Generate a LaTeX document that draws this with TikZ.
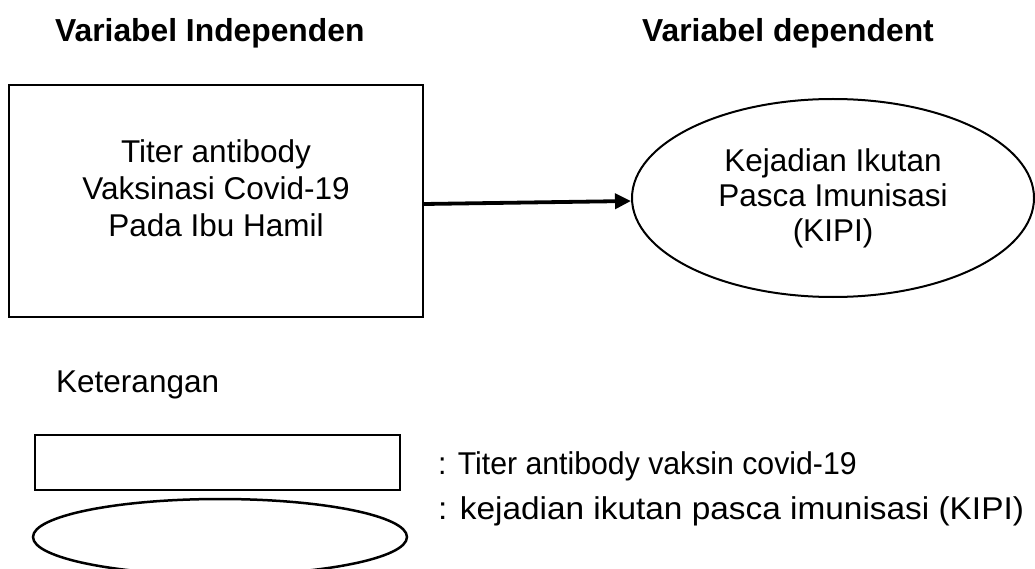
\documentclass[tikz,border=0pt]{standalone}
\usepackage{fontspec}
\setmainfont{Liberation Sans}
\usetikzlibrary{shapes.geometric,arrows.meta}
\tikzset{
  txt/.style={font=\fontsize{31.5}{36}\selectfont, inner sep=0pt},
  ttl/.style={font=\fontsize{31.8}{36}\selectfont\bfseries, inner sep=0pt, anchor=base west},
  varbox/.style={draw, line width=2pt, minimum width=414pt, minimum height=232pt, inner sep=0pt},
  varell/.style={draw, ellipse, line width=2pt, minimum width=402pt, minimum height=198pt, inner sep=0pt},
  legbox/.style={draw, line width=2.5pt, minimum width=365pt, minimum height=55pt, inner sep=0pt},
  legell/.style={draw, ellipse, line width=2.5pt, minimum width=374pt, minimum height=76pt, inner sep=0pt},
  conn/.style={line width=3.8pt, -{Triangle[length=16pt,width=15pt]}}
}
\begin{document}
\begin{tikzpicture}[x=1pt,y=-1pt]
\useasboundingbox (0,0) rectangle (1035,569);
\node[ttl] (t1) at (55,42) {Variabel Independen};
\node[ttl] (t2) at (642,42) {Variabel dependent};
\node[varbox] (box) at (216,201) {};
\node[txt, align=center, font=\fontsize{31.5}{37}\selectfont] (boxtext) at (216,188) {Titer antibody\\Vaksinasi Covid-19\\Pada Ibu Hamil};
\node[varell] (ell) at (833,198) {};
\node[txt, align=center, font=\fontsize{31.5}{35}\selectfont] (elltext) at (833,198) {Kejadian Ikutan\\Pasca Imunisasi\\(KIPI)};
\draw[conn] ([yshift=-3pt]box.east) -- ([yshift=-3pt]ell.west);
\node[txt, anchor=base west] (ket) at (56,392) {Keterangan};
\node[legbox] (lb) at (217.5,462.5) {};
\node[legell] (le) at (220,537) {};
\node[txt, anchor=base west] (l1) at (438,474) {\scalebox{0.96}[1]{: Titer antibody vaksin covid-19}};
\node[txt, anchor=base west] (l2) at (438,519) {\scalebox{1.06}[1]{: kejadian ikutan pasca imunisasi (KIPI)}};
\end{tikzpicture}
\end{document}
